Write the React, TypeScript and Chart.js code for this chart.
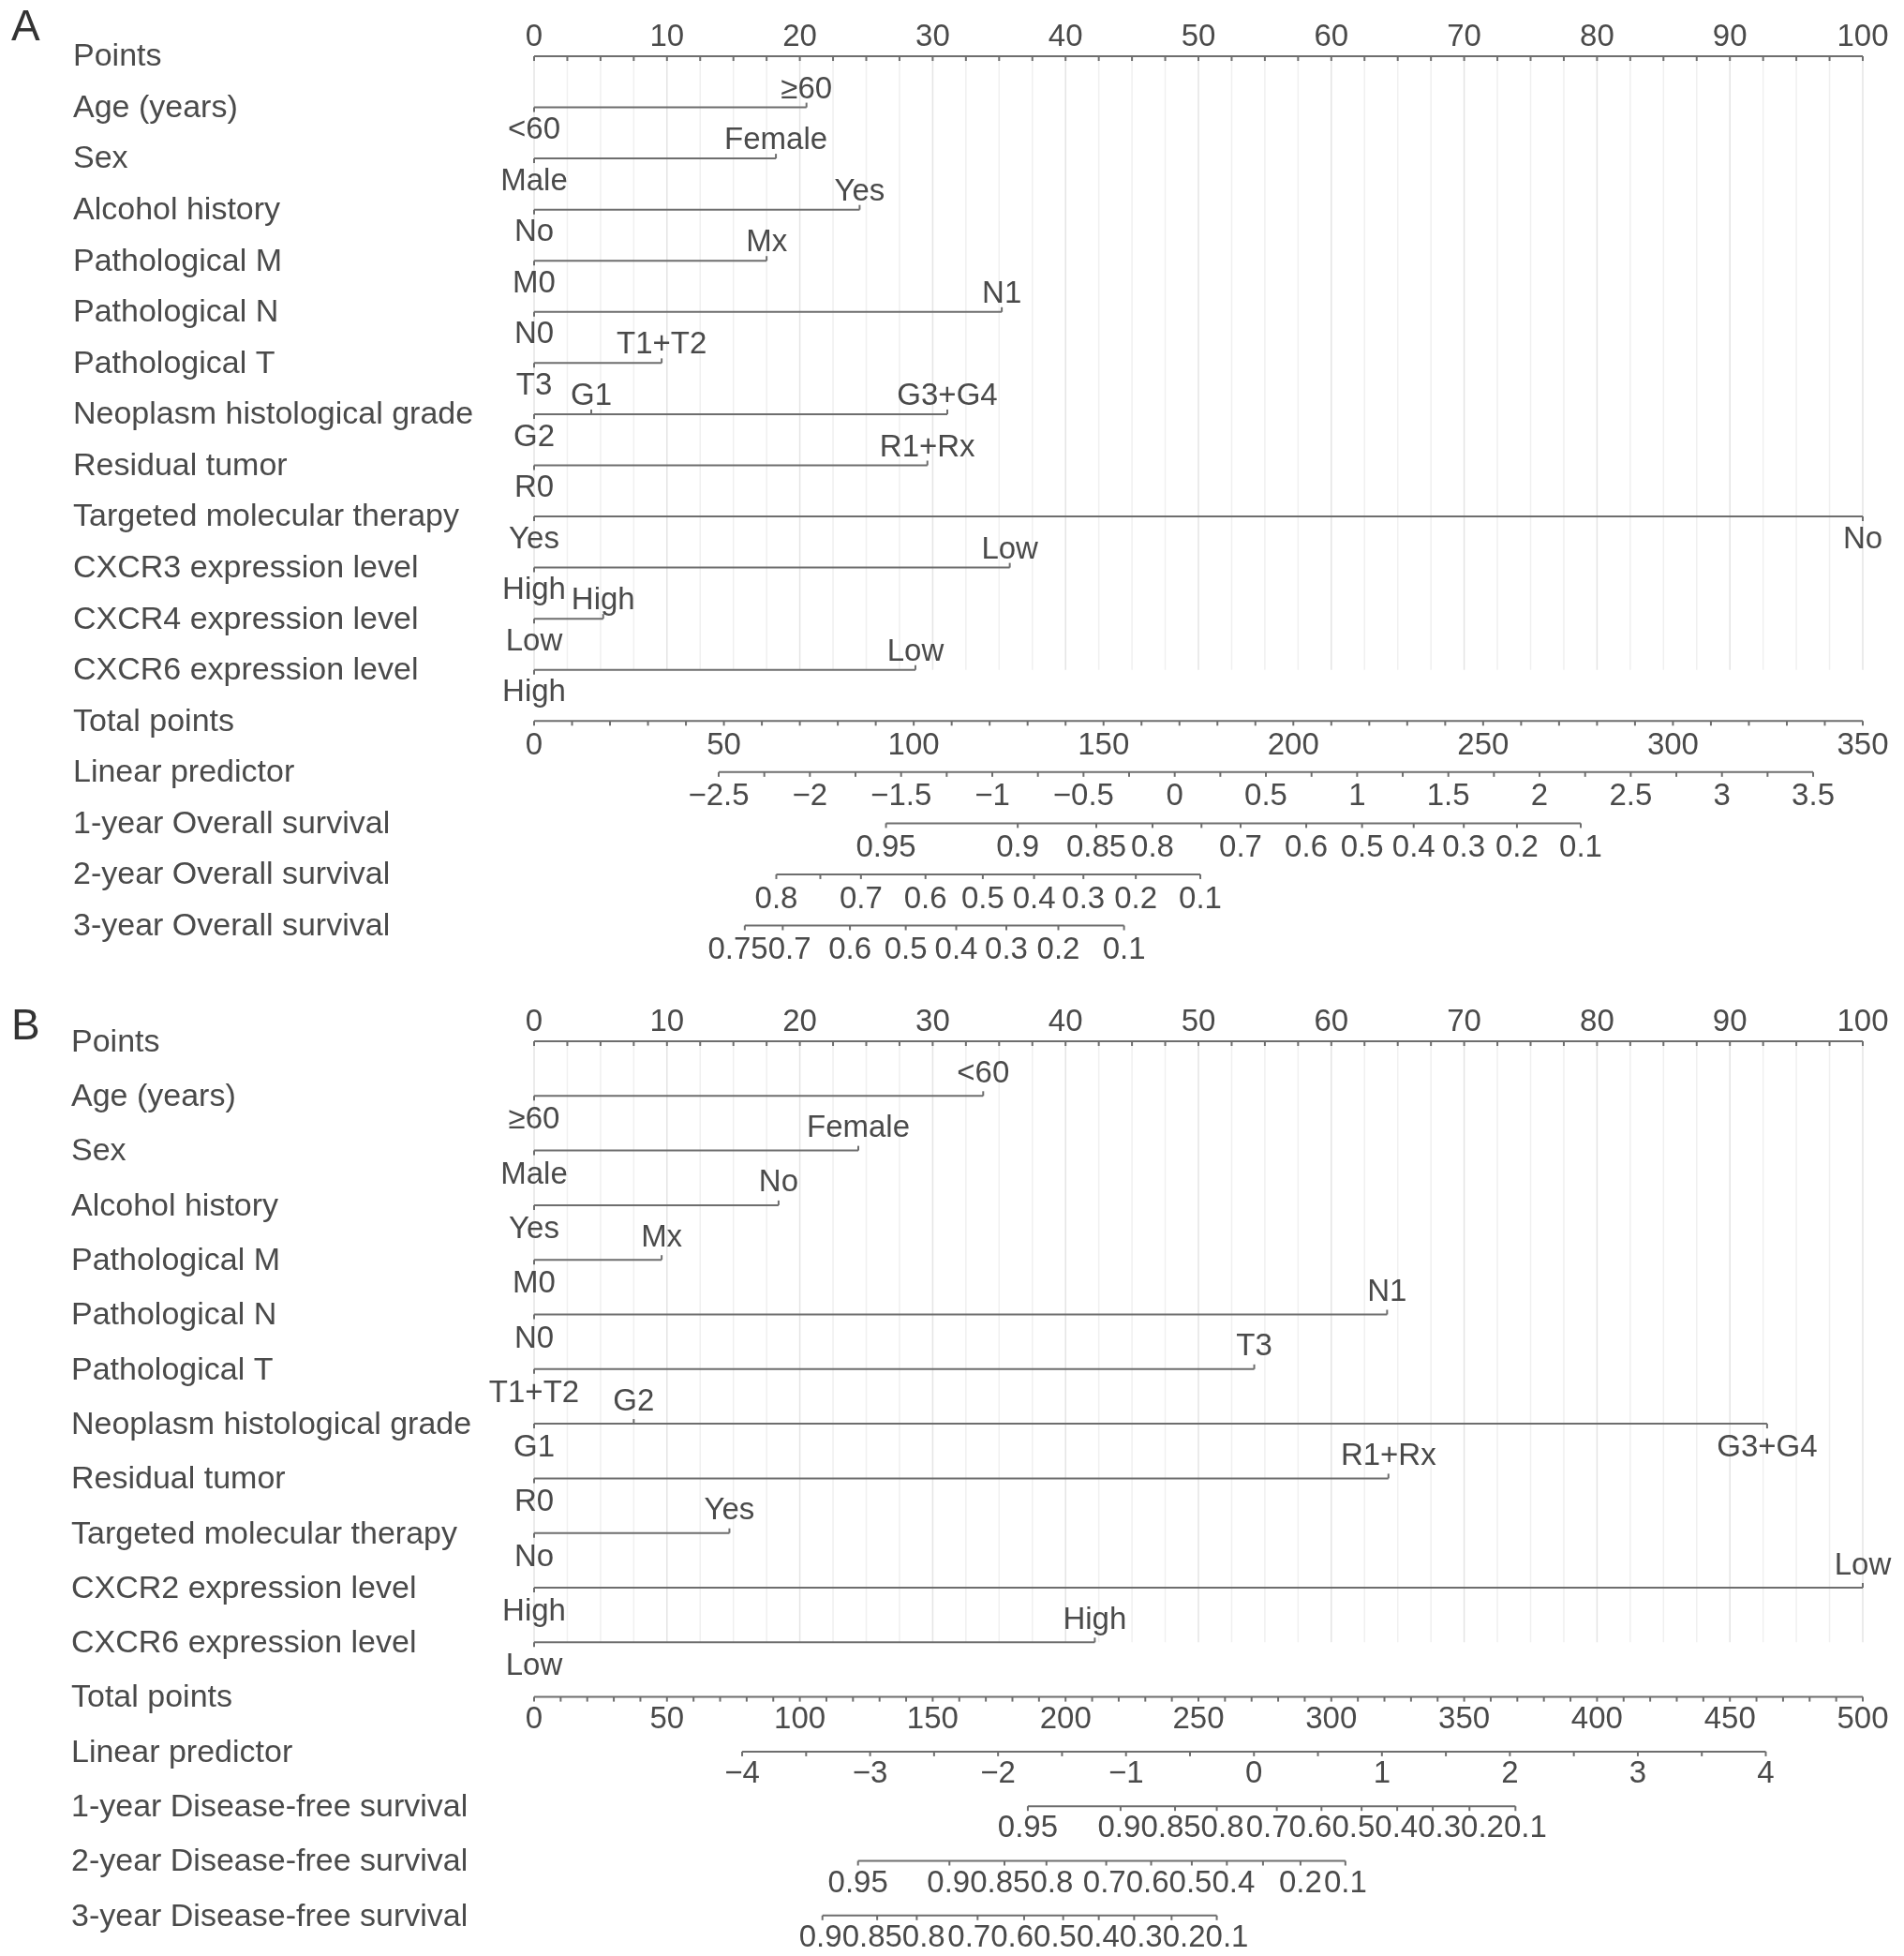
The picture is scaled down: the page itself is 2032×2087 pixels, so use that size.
import React, { useEffect, useRef } from "react";
import { Chart, registerables } from "chart.js";

Chart.register(...registerables);

// ---------------- Panel A data ----------------
const A_FACTOR_NAMES = [
  "Age (years)",
  "Sex",
  "Alcohol history",
  "Pathological M",
  "Pathological N",
  "Pathological T",
  "Neoplasm histological grade",
  "Residual tumor",
  "Targeted molecular therapy",
  "CXCR3 expression level",
  "CXCR4 expression level",
  "CXCR6 expression level",
];
const A_LEVEL_NAMES = [
  ["<60", "≥60"],
  ["Male", "Female"],
  ["No", "Yes"],
  ["M0", "Mx"],
  ["N0", "N1"],
  ["T3", "T1+T2"],
  ["G2", "G1", "G3+G4"],
  ["R0", "R1+Rx"],
  ["Yes", "No"],
  ["High", "Low"],
  ["Low", "High"],
  ["High", "Low"],
];
const A_LEVEL_POINTS = [
  [0, 20.5],
  [0, 18.2],
  [0, 24.5],
  [0, 17.5],
  [0, 35.2],
  [0, 9.6],
  [0, 4.3, 31.1],
  [0, 29.6],
  [0, 100],
  [0, 35.8],
  [0, 5.2],
  [0, 28.7],
];
const A_POINT_TICKS = [0, 10, 20, 30, 40, 50, 60, 70, 80, 90, 100];
const A_TOTAL_MAX = 350;
const A_TOTAL_TICKS = [0, 50, 100, 150, 200, 250, 300, 350];
const A_LP_AT_TOTAL_ENDS = [-3.512, 3.772];
const A_LP_TICKS = [-2.5, -2, -1.5, -1, -0.5, 0, 0.5, 1, 1.5, 2, 2.5, 3, 3.5];
const A_SURV_NAMES = [
  "1-year Overall survival",
  "2-year Overall survival",
  "3-year Overall survival",
];
const A_SURV_LABELS = [
  ["0.95", "0.9", "0.85", "0.8", "", "0.7", "0.6", "0.5", "0.4", "0.3", "0.2", "0.1"],
  ["0.8", "", "0.7", "0.6", "0.5", "0.4", "0.3", "0.2", "0.1"],
  ["0.75", "0.7", "0.6", "0.5", "0.4", "0.3", "0.2", "0.1"],
];
const A_SURV_TOTALS = [
  [92.7, 127.4, 148.1, 162.9, 175.8, 186.1, 203.4, 218.1, 231.7, 244.9, 258.9, 275.7],
  [63.8, 75.4, 86.1, 103.1, 118.2, 131.7, 144.7, 158.5, 175.5],
  [55.5, 65.5, 83.2, 97.9, 111.2, 124.4, 138.1, 155.4],
];

// ---------------- Panel B data ----------------
const B_FACTOR_NAMES = [
  "Age (years)",
  "Sex",
  "Alcohol history",
  "Pathological M",
  "Pathological N",
  "Pathological T",
  "Neoplasm histological grade",
  "Residual tumor",
  "Targeted molecular therapy",
  "CXCR2 expression level",
  "CXCR6 expression level",
];
const B_LEVEL_NAMES = [
  ["≥60", "<60"],
  ["Male", "Female"],
  ["Yes", "No"],
  ["M0", "Mx"],
  ["N0", "N1"],
  ["T1+T2", "T3"],
  ["G1", "G2", "G3+G4"],
  ["R0", "R1+Rx"],
  ["No", "Yes"],
  ["High", "Low"],
  ["Low", "High"],
];
const B_LEVEL_POINTS = [
  [0, 33.8],
  [0, 24.4],
  [0, 18.4],
  [0, 9.6],
  [0, 64.2],
  [0, 54.2],
  [0, 7.5, 92.8],
  [0, 64.3],
  [0, 14.7],
  [0, 100],
  [0, 42.2],
];
const B_POINT_TICKS = [0, 10, 20, 30, 40, 50, 60, 70, 80, 90, 100];
const B_TOTAL_MAX = 500;
const B_TOTAL_TICKS = [0, 50, 100, 150, 200, 250, 300, 350, 400, 450, 500];
const B_LP_AT_TOTAL_ENDS = [-5.626, 4.758];
const B_LP_TICKS = [-4, -3, -2, -1, 0, 1, 2, 3, 4];
const B_SURV_NAMES = [
  "1-year Disease-free survival",
  "2-year Disease-free survival",
  "3-year Disease-free survival",
];
const B_SURV_LABELS = [
  ["0.95", "0.9", "0.85", "0.8", "0.7", "0.6", "0.5", "0.4", "0.3", "0.2", "0.1"],
  ["0.95", "0.9", "0.85", "0.8", "0.7", "0.6", "0.5", "0.4", "", "0.2", "0.1"],
  ["0.9", "0.85", "0.8", "0.7", "0.6", "0.5", "0.4", "0.3", "0.2", "0.1"],
];
const B_SURV_TOTALS = [
  [185.8, 220.7, 241.2, 256.9, 279.5, 296.3, 311.4, 324.8, 338.2, 352.0, 369.3],
  [121.9, 156.3, 177.0, 192.8, 215.3, 232.2, 247.5, 260.7, 274.3, 288.4, 305.3],
  [108.5, 129.1, 144.0, 166.9, 184.4, 199.1, 212.5, 225.8, 239.9, 256.9],
];

// ---------------- Styles ----------------
const FONT_FAMILY = '"Liberation Sans", Arial, Helvetica, sans-serif';
const TEXT_COLOR = "#4a4a4a";
const LINE_COLOR = "#6e6e6e";
const GRID_MAJOR = "#e4e4e4";
const GRID_MINOR = "#f0f0f0";
const ROW_FONT = 34;
const VALUE_FONT = 33;
const TICK_LEN = 5;

type PanelData = {
  factorNames: string[];
  levelNames: string[][];
  levelPoints: number[][];
  pointTicks: number[];
  pointMinor: number;
  totalMax: number;
  totalTicks: number[];
  totalMinor: number;
  lpEnds: number[];
  lpTicks: number[];
  lpMinor: number;
  survNames: string[];
  survLabels: string[][];
  survTotals: number[][];
  belowExceptions: string[];
};

type Layout = {
  letter: string;
  top: number;
  height: number;
  rowTop: number;
  rowStep: number;
  labelX: number;
  labelDy: number;
  letterY: number;
  levelAbove: number;
  levelBelow: number;
  axisOffAbove: number;
  axisOffBelow: number;
};

const PANEL_A: PanelData = {
  factorNames: A_FACTOR_NAMES,
  levelNames: A_LEVEL_NAMES,
  levelPoints: A_LEVEL_POINTS,
  pointTicks: A_POINT_TICKS,
  pointMinor: 2.5,
  totalMax: A_TOTAL_MAX,
  totalTicks: A_TOTAL_TICKS,
  totalMinor: 10,
  lpEnds: A_LP_AT_TOTAL_ENDS,
  lpTicks: A_LP_TICKS,
  lpMinor: 0.25,
  survNames: A_SURV_NAMES,
  survLabels: A_SURV_LABELS,
  survTotals: A_SURV_TOTALS,
  belowExceptions: ["Targeted molecular therapy:No"],
};

const PANEL_B: PanelData = {
  factorNames: B_FACTOR_NAMES,
  levelNames: B_LEVEL_NAMES,
  levelPoints: B_LEVEL_POINTS,
  pointTicks: B_POINT_TICKS,
  pointMinor: 2.5,
  totalMax: B_TOTAL_MAX,
  totalTicks: B_TOTAL_TICKS,
  totalMinor: 10,
  lpEnds: B_LP_AT_TOTAL_ENDS,
  lpTicks: B_LP_TICKS,
  lpMinor: 0.5,
  survNames: B_SURV_NAMES,
  survLabels: B_SURV_LABELS,
  survTotals: B_SURV_TOTALS,
  belowExceptions: ["Neoplasm histological grade:G3+G4"],
};

const LAYOUT_A: Layout = {
  letter: "A",
  top: 0,
  height: 1045,
  rowTop: 60,
  rowStep: 54.56,
  labelX: 78,
  labelDy: 1,
  letterY: 30,
  levelAbove: 19,
  levelBelow: 24.5,
  axisOffAbove: 20,
  axisOffBelow: 26.5,
};

const LAYOUT_B: Layout = {
  letter: "B",
  top: 1045,
  height: 1042,
  rowTop: 66,
  rowStep: 58.3,
  labelX: 76,
  labelDy: 1.5,
  letterY: 51,
  levelAbove: 23.5,
  levelBelow: 26,
  axisOffAbove: 20,
  axisOffBelow: 24,
};

const fmtNum = (v: number) => (v < 0 ? "\u2212" + String(Math.abs(v)) : String(v));

// Move overlapping labels apart (least-squares, keeping order) so they abut.
function spreadCenters(centers: number[], widths: number[]): number[] {
  const blocks: { idx: number[]; left: number }[] = [];
  const blockWidth = (idx: number[]) => idx.reduce((s, j) => s + widths[j], 0);
  for (let i = 0; i < centers.length; i++) {
    blocks.push({ idx: [i], left: centers[i] - widths[i] / 2 });
    while (blocks.length > 1) {
      const cur = blocks[blocks.length - 1];
      const prev = blocks[blocks.length - 2];
      if (prev.left + blockWidth(prev.idx) <= cur.left) break;
      const idx = prev.idx.concat(cur.idx);
      let off = 0;
      let s = 0;
      for (const j of idx) {
        s += centers[j] - off - widths[j] / 2;
        off += widths[j];
      }
      blocks.splice(blocks.length - 2, 2, { idx, left: s / idx.length });
    }
  }
  const out = new Array(centers.length).fill(0);
  for (const b of blocks) {
    let x = b.left;
    for (const j of b.idx) {
      out[j] = x + widths[j] / 2;
      x += widths[j];
    }
  }
  return out;
}

function Nomogram({ d, lay }: { d: PanelData; lay: Layout }) {
  const ref = useRef<HTMLCanvasElement>(null);

  useEffect(() => {
    const canvas = ref.current;
    if (!canvas) return;
    const nF = d.factorNames.length;
    const rowTotal = nF + 1;
    const rowLP = nF + 2;
    const rowSurv0 = nF + 3;
    const nRows = rowSurv0 + d.survNames.length;
    const rowLabels = [
      "Points",
      ...d.factorNames,
      "Total points",
      "Linear predictor",
      ...d.survNames,
    ];

    const seg = (xAxisID: string, x0: number, x1: number, row: number) => ({
      type: "line" as const,
      data: [
        { x: x0, y: row },
        { x: x1, y: row },
      ],
      xAxisID,
      yAxisID: "row",
      borderColor: LINE_COLOR,
      borderWidth: 2,
      pointRadius: 0,
      fill: false,
      clip: false as any,
      tension: 0,
    });

    const datasets: any[] = [];
    datasets.push(seg("pts", 0, 100, 0));
    d.levelPoints.forEach((p, i) =>
      datasets.push(seg("pts", Math.min(...p), Math.max(...p), i + 1))
    );
    datasets.push(seg("tot", 0, d.totalMax, rowTotal));
    datasets.push(
      seg("lp", d.lpTicks[0], d.lpTicks[d.lpTicks.length - 1], rowLP)
    );
    d.survTotals.forEach((t, k) =>
      datasets.push(seg("tot", t[0], t[t.length - 1], rowSurv0 + k))
    );

    const plugin = {
      id: "nomogram" + lay.letter,
      beforeDatasetsDraw(chart: any) {
        const ctx: CanvasRenderingContext2D = chart.ctx;
        const px = chart.scales.pts;
        const ry = chart.scales.row;
        const y0 = ry.getPixelForValue(0);
        const y1 = ry.getPixelForValue(nF);
        ctx.save();
        ctx.lineWidth = 1.5;
        const n = Math.round(100 / d.pointMinor);
        for (let i = 0; i <= n; i++) {
          const v = i * d.pointMinor;
          const x = px.getPixelForValue(v);
          ctx.strokeStyle = Math.abs(v % 10) < 1e-9 ? GRID_MAJOR : GRID_MINOR;
          ctx.beginPath();
          ctx.moveTo(x, y0);
          ctx.lineTo(x, y1);
          ctx.stroke();
        }
        ctx.restore();
      },
      afterDatasetsDraw(chart: any) {
        const ctx: CanvasRenderingContext2D = chart.ctx;
        const px = chart.scales.pts;
        const tx = chart.scales.tot;
        const lx = chart.scales.lp;
        const ry = chart.scales.row;
        ctx.save();
        ctx.fillStyle = TEXT_COLOR;
        ctx.strokeStyle = LINE_COLOR;
        ctx.lineWidth = 2;
        ctx.textBaseline = "middle";

        const text = (s: string, x: number, y: number, align: CanvasTextAlign = "center") => {
          if (!s) return;
          ctx.textAlign = align;
          ctx.fillText(s, x, y);
        };
        const tick = (x: number, y: number, dir: number) => {
          ctx.beginPath();
          ctx.moveTo(x, y);
          ctx.lineTo(x, y + dir * TICK_LEN);
          ctx.stroke();
        };

        // Row labels
        ctx.font = `${ROW_FONT}px ${FONT_FAMILY}`;
        rowLabels.forEach((lab, r) => {
          text(lab, lay.labelX, ry.getPixelForValue(r) + lay.labelDy, "left");
        });

        // Panel letter
        ctx.save();
        ctx.font = `46px ${FONT_FAMILY}`;
        ctx.fillStyle = "#333333";
        text(lay.letter, 12, lay.letterY, "left");
        ctx.restore();

        ctx.font = `${VALUE_FONT}px ${FONT_FAMILY}`;

        // Points axis
        const yP = ry.getPixelForValue(0);
        const nPm = Math.round(100 / d.pointMinor);
        for (let i = 0; i <= nPm; i++) tick(px.getPixelForValue(i * d.pointMinor), yP, 1);
        d.pointTicks.forEach((v) => text(String(v), px.getPixelForValue(v), yP - lay.axisOffAbove));

        // Factor rows
        d.levelPoints.forEach((pts, i) => {
          const y = ry.getPixelForValue(i + 1);
          pts.forEach((p, j) => {
            const name = d.levelNames[i][j];
            const below =
              p === 0 || d.belowExceptions.includes(d.factorNames[i] + ":" + name);
            const dir = below ? 1 : -1;
            const x = px.getPixelForValue(p);
            tick(x, y, dir);
            text(name, x, below ? y + lay.levelBelow : y - lay.levelAbove);
          });
        });

        // Total points axis
        const yT = ry.getPixelForValue(rowTotal);
        const nTm = Math.round(d.totalMax / d.totalMinor);
        for (let i = 0; i <= nTm; i++) tick(tx.getPixelForValue(i * d.totalMinor), yT, 1);
        d.totalTicks.forEach((v) => text(String(v), tx.getPixelForValue(v), yT + lay.axisOffBelow));

        // Linear predictor axis
        const yL = ry.getPixelForValue(rowLP);
        const lpLo = d.lpTicks[0];
        const lpHi = d.lpTicks[d.lpTicks.length - 1];
        const nLm = Math.round((lpHi - lpLo) / d.lpMinor);
        for (let i = 0; i <= nLm; i++) tick(lx.getPixelForValue(lpLo + i * d.lpMinor), yL, 1);
        d.lpTicks.forEach((v) => text(fmtNum(v), lx.getPixelForValue(v), yL + lay.axisOffBelow));

        // Survival axes
        d.survTotals.forEach((totals, k) => {
          const y = ry.getPixelForValue(rowSurv0 + k);
          const labs: string[] = [];
          const centers: number[] = [];
          totals.forEach((t, j) => {
            const x = tx.getPixelForValue(t);
            tick(x, y, 1);
            const s = d.survLabels[k][j];
            if (s) {
              labs.push(s);
              centers.push(x);
            }
          });
          const widths = labs.map((s) => ctx.measureText(s).width);
          const placed = spreadCenters(centers, widths);
          labs.forEach((s, j) => text(s, placed[j], y + lay.axisOffBelow));
        });

        ctx.restore();
      },
    };

    const chart = new Chart(canvas, {
      type: "line",
      data: { datasets },
      options: {
        responsive: false,
        animation: false,
        devicePixelRatio: 1,
        events: [],
        layout: {
          padding: {
            left: 570,
            right: 44,
            top: lay.rowTop,
            bottom: lay.height - lay.rowTop - lay.rowStep * (nRows - 1),
          },
        },
        plugins: {
          legend: { display: false },
          tooltip: { enabled: false },
        },
        scales: {
          pts: { type: "linear", axis: "x", min: 0, max: 100, display: false },
          tot: { type: "linear", axis: "x", min: 0, max: d.totalMax, display: false },
          lp: { type: "linear", axis: "x", min: d.lpEnds[0], max: d.lpEnds[1], display: false },
          row: { type: "linear", axis: "y", min: 0, max: nRows - 1, reverse: true, display: false },
        },
      } as any,
      plugins: [plugin],
    });

    return () => chart.destroy();
  }, [d, lay]);

  return (
    <canvas
      ref={ref}
      width={2032}
      height={lay.height}
      style={{
        position: "absolute",
        left: 0,
        top: lay.top,
        width: 2032,
        height: lay.height,
        display: "block",
      }}
    />
  );
}

export default function App() {
  return (
    <div
      style={{
        position: "absolute",
        left: 0,
        top: 0,
        width: 2032,
        height: 2087,
        background: "#ffffff",
        overflow: "hidden",
      }}
    >
      <Nomogram d={PANEL_A} lay={LAYOUT_A} />
      <Nomogram d={PANEL_B} lay={LAYOUT_B} />
    </div>
  );
}
